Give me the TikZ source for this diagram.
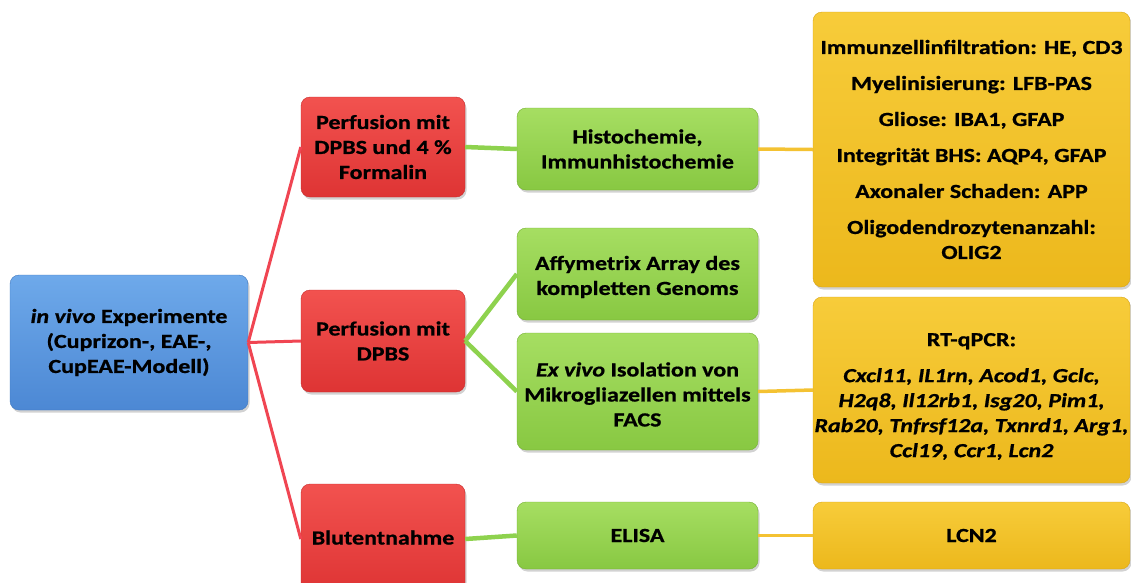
\documentclass[tikz,border=0pt]{standalone}
\usepackage{fontspec}
\setmainfont{Carlito}[FakeStretch=1.2,
  BoldFeatures={FakeBold=0.8}, BoldItalicFeatures={FakeBold=0.8}]
\usetikzlibrary{shadows}

\definecolor{bluetop}{HTML}{6EA9EA}
\definecolor{bluebot}{HTML}{4C88D4}
\definecolor{blueedge}{HTML}{3F78C0}
\definecolor{redtop}{HTML}{F2524F}
\definecolor{redbot}{HTML}{DE3434}
\definecolor{rededge}{HTML}{C82A2A}
\definecolor{greentop}{HTML}{A6DE62}
\definecolor{greenbot}{HTML}{88C842}
\definecolor{greenedge}{HTML}{74B030}
\definecolor{yellowtop}{HTML}{F7CC3A}
\definecolor{yellowbot}{HTML}{ECB81C}
\definecolor{yellowedge}{HTML}{D8A414}
\definecolor{redlink}{HTML}{F04552}
\definecolor{greenlink}{HTML}{8ED24E}
\definecolor{yellowlink}{HTML}{F4C232}

\begin{document}
\begin{tikzpicture}[x=1pt,y=-1pt,
    box/.style={rectangle, rounded corners=9pt, align=center, inner sep=1pt,
      font=\fontsize{20}{25}\selectfont\bfseries,
      drop shadow={shadow xshift=1.5pt, shadow yshift=-2.5pt, opacity=0.35}},
    expbox/.style={box, draw=blueedge, top color=bluetop, bottom color=bluebot},
    perfbox/.style={box, draw=rededge, top color=redtop, bottom color=redbot,
      minimum width=164pt},
    methbox/.style={box, draw=greenedge, top color=greentop, bottom color=greenbot,
      minimum width=241pt},
    resbox/.style={box, draw=yellowedge, top color=yellowtop, bottom color=yellowbot,
      minimum width=317pt},
    redline/.style={draw=redlink, line width=3pt},
    greenline/.style={draw=greenlink, line width=4.5pt},
    yellowline/.style={draw=yellowlink, line width=3.5pt}]
  \clip (0,0) rectangle (1131,582);
  \fill[white] (0,0) rectangle (1131,582);

  % Ausgangspunkt
  \node[expbox, minimum width=238pt, minimum height=135pt] (exp) at (129,342.5)
    {\textit{in vivo} Experimente\\(Cuprizon-, EAE-,\\CupEAE-Modell)};

  % Probengewinnung
  \node[perfbox, minimum height=100pt] (perf1) at (383,147) {Perfusion mit\\DPBS und 4 \%\\Formalin};
  \node[perfbox, minimum height=102pt] (perf2) at (383,341) {Perfusion mit\\DPBS};
  \node[perfbox, minimum height=110pt] (blut) at (383,539) {\raisebox{3pt}{Blutentnahme}};

  % Methoden
  \node[methbox, minimum height=82pt] (histo) at (637.5,149) {Histochemie,\\Immunhistochemie};
  \node[methbox, minimum height=92pt] (affy) at (637.5,274) {\rule{0pt}{20pt}Affymetrix Array des\\kompletten Genoms};
  \node[methbox, minimum height=117pt] (facs) at (637.5,391.5)
    {\rule{0pt}{20pt}\textit{Ex vivo} Isolation von\\Mikrogliazellen mittels\\FACS};
  \node[methbox, minimum height=67pt] (elisa) at (637.5,535.5) {ELISA};

  % Auswertung
  \node[resbox, minimum height=275pt] (marker) at (971.5,149.5)
    {Immunzellinfiltration: HE, CD3\\[11pt]
     Myelinisierung: LFB-PAS\\[11pt]
     Gliose: IBA1, GFAP\\[11pt]
     Integrit\"at BHS: AQP4, GFAP\\[11pt]
     Axonaler Schaden: APP\\[11pt]
     Oligodendrozytenanzahl:\\OLIG2};
  \node[resbox, minimum height=186pt] (pcr) at (971.5,390)
    {\rule{0pt}{26pt}RT-qPCR:\\[11pt]
     \textit{Cxcl11, IL1rn, Acod1, Gclc,}\\
     \textit{H2q8, Il12rb1, Isg20, Pim1,}\\
     \textit{Rab20, Tnfrsf12a, Txnrd1, Arg1,}\\
     \textit{Ccl19, Ccr1, Lcn2}};
  \node[resbox, minimum height=67pt] (lcn) at (971.5,535.5) {LCN2};

  % Verbindungen
  \draw[redline] (exp.east) -- (perf1.west);
  \draw[redline] (exp.east) -- (perf2.west);
  \draw[redline] (exp.east) -- (blut.west);
  \draw[greenline] (perf1.east) -- (histo.west);
  \draw[greenline] (perf2.east) -- (affy.west);
  \draw[greenline] (perf2.east) -- (facs.west);
  \draw[greenline] (blut.east) -- (elisa.west);
  \draw[yellowline] (histo.east) -- (marker.west);
  \draw[yellowline] (facs.east) -- (pcr.west);
  \draw[yellowline] (elisa.east) -- (lcn.west);
\end{tikzpicture}
\end{document}
